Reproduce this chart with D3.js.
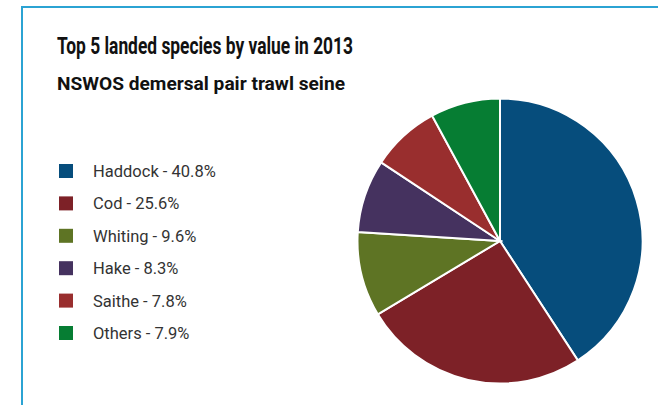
<!DOCTYPE html>
<html>
<head>
<meta charset="utf-8">
<script src="https://cdn.jsdelivr.net/npm/d3@7"></script>
<style>
  body { margin: 0; background: #fff; }
  svg { display: block; }
</style>
</head>
<body>
<svg id="chart"></svg>
<script>
// Chart data
const species = ['Haddock', 'Cod', 'Whiting', 'Hake', 'Saithe', 'Others'];
const shares = [40.8, 25.6, 9.6, 8.3, 7.8, 7.9];
const colours = ['#064d7c', '#7d2127', '#5e7424', '#45325f', '#992e2e', '#067d33'];

const width = 658, height = 405;
const svg = d3.select('#chart').attr('width', width).attr('height', height);

// Frame (only top and left edges visible)
svg.append('path')
    .attr('d', `M22,${height} V7 H${width}`)
    .attr('fill', 'none')
    .attr('stroke', '#2ba3d3')
    .attr('stroke-width', 2);

// Titles
svg.append('text')
    .attr('x', 57).attr('y', 54)
    .attr('font-family', 'Roboto, sans-serif')
    .attr('font-weight', 'bold')
    .attr('font-size', 23)
    .attr('textLength', 296)
    .attr('lengthAdjust', 'spacingAndGlyphs')
    .attr('fill', '#111')
    .text('Top 5 landed species by value in 2013');

svg.append('text')
    .attr('x', 57).attr('y', 90)
    .attr('font-family', 'Roboto, sans-serif')
    .attr('font-weight', 'bold')
    .attr('font-size', 17.5)
    .attr('textLength', 288)
    .attr('lengthAdjust', 'spacingAndGlyphs')
    .attr('fill', '#111')
    .text('NSWOS demersal pair trawl seine');

// Legend
const colour = d3.scaleOrdinal().domain(species).range(colours);
const legendY = d3.scalePoint().domain(species).range([171, 333]);

const legend = svg.append('g')
    .selectAll('g')
    .data(species)
    .join('g')
    .attr('transform', d => `translate(59,${legendY(d)})`);

legend.append('rect')
    .attr('x', 0).attr('y', -7)
    .attr('width', 14).attr('height', 14)
    .attr('fill', d => colour(d));

legend.append('text')
    .attr('x', 34).attr('y', 0)
    .attr('dy', '0.36em')
    .attr('font-family', 'Roboto, sans-serif')
    .attr('font-size', 16.5)
    .attr('fill', '#333')
    .text((d, i) => `${d} - ${shares[i]}%`);

// Pie
const cx = 500, cy = 241, radius = 142.5;
const pie = d3.pie().sort(null).value((d, i) => shares[i]);
const arc = d3.arc().innerRadius(0).outerRadius(radius);

svg.append('g')
    .attr('transform', `translate(${cx},${cy})`)
    .selectAll('path')
    .data(pie(species))
    .join('path')
    .attr('d', arc)
    .attr('fill', d => colour(d.data))
    .attr('stroke', '#fff')
    .attr('stroke-width', 2);
</script>
</body>
</html>
